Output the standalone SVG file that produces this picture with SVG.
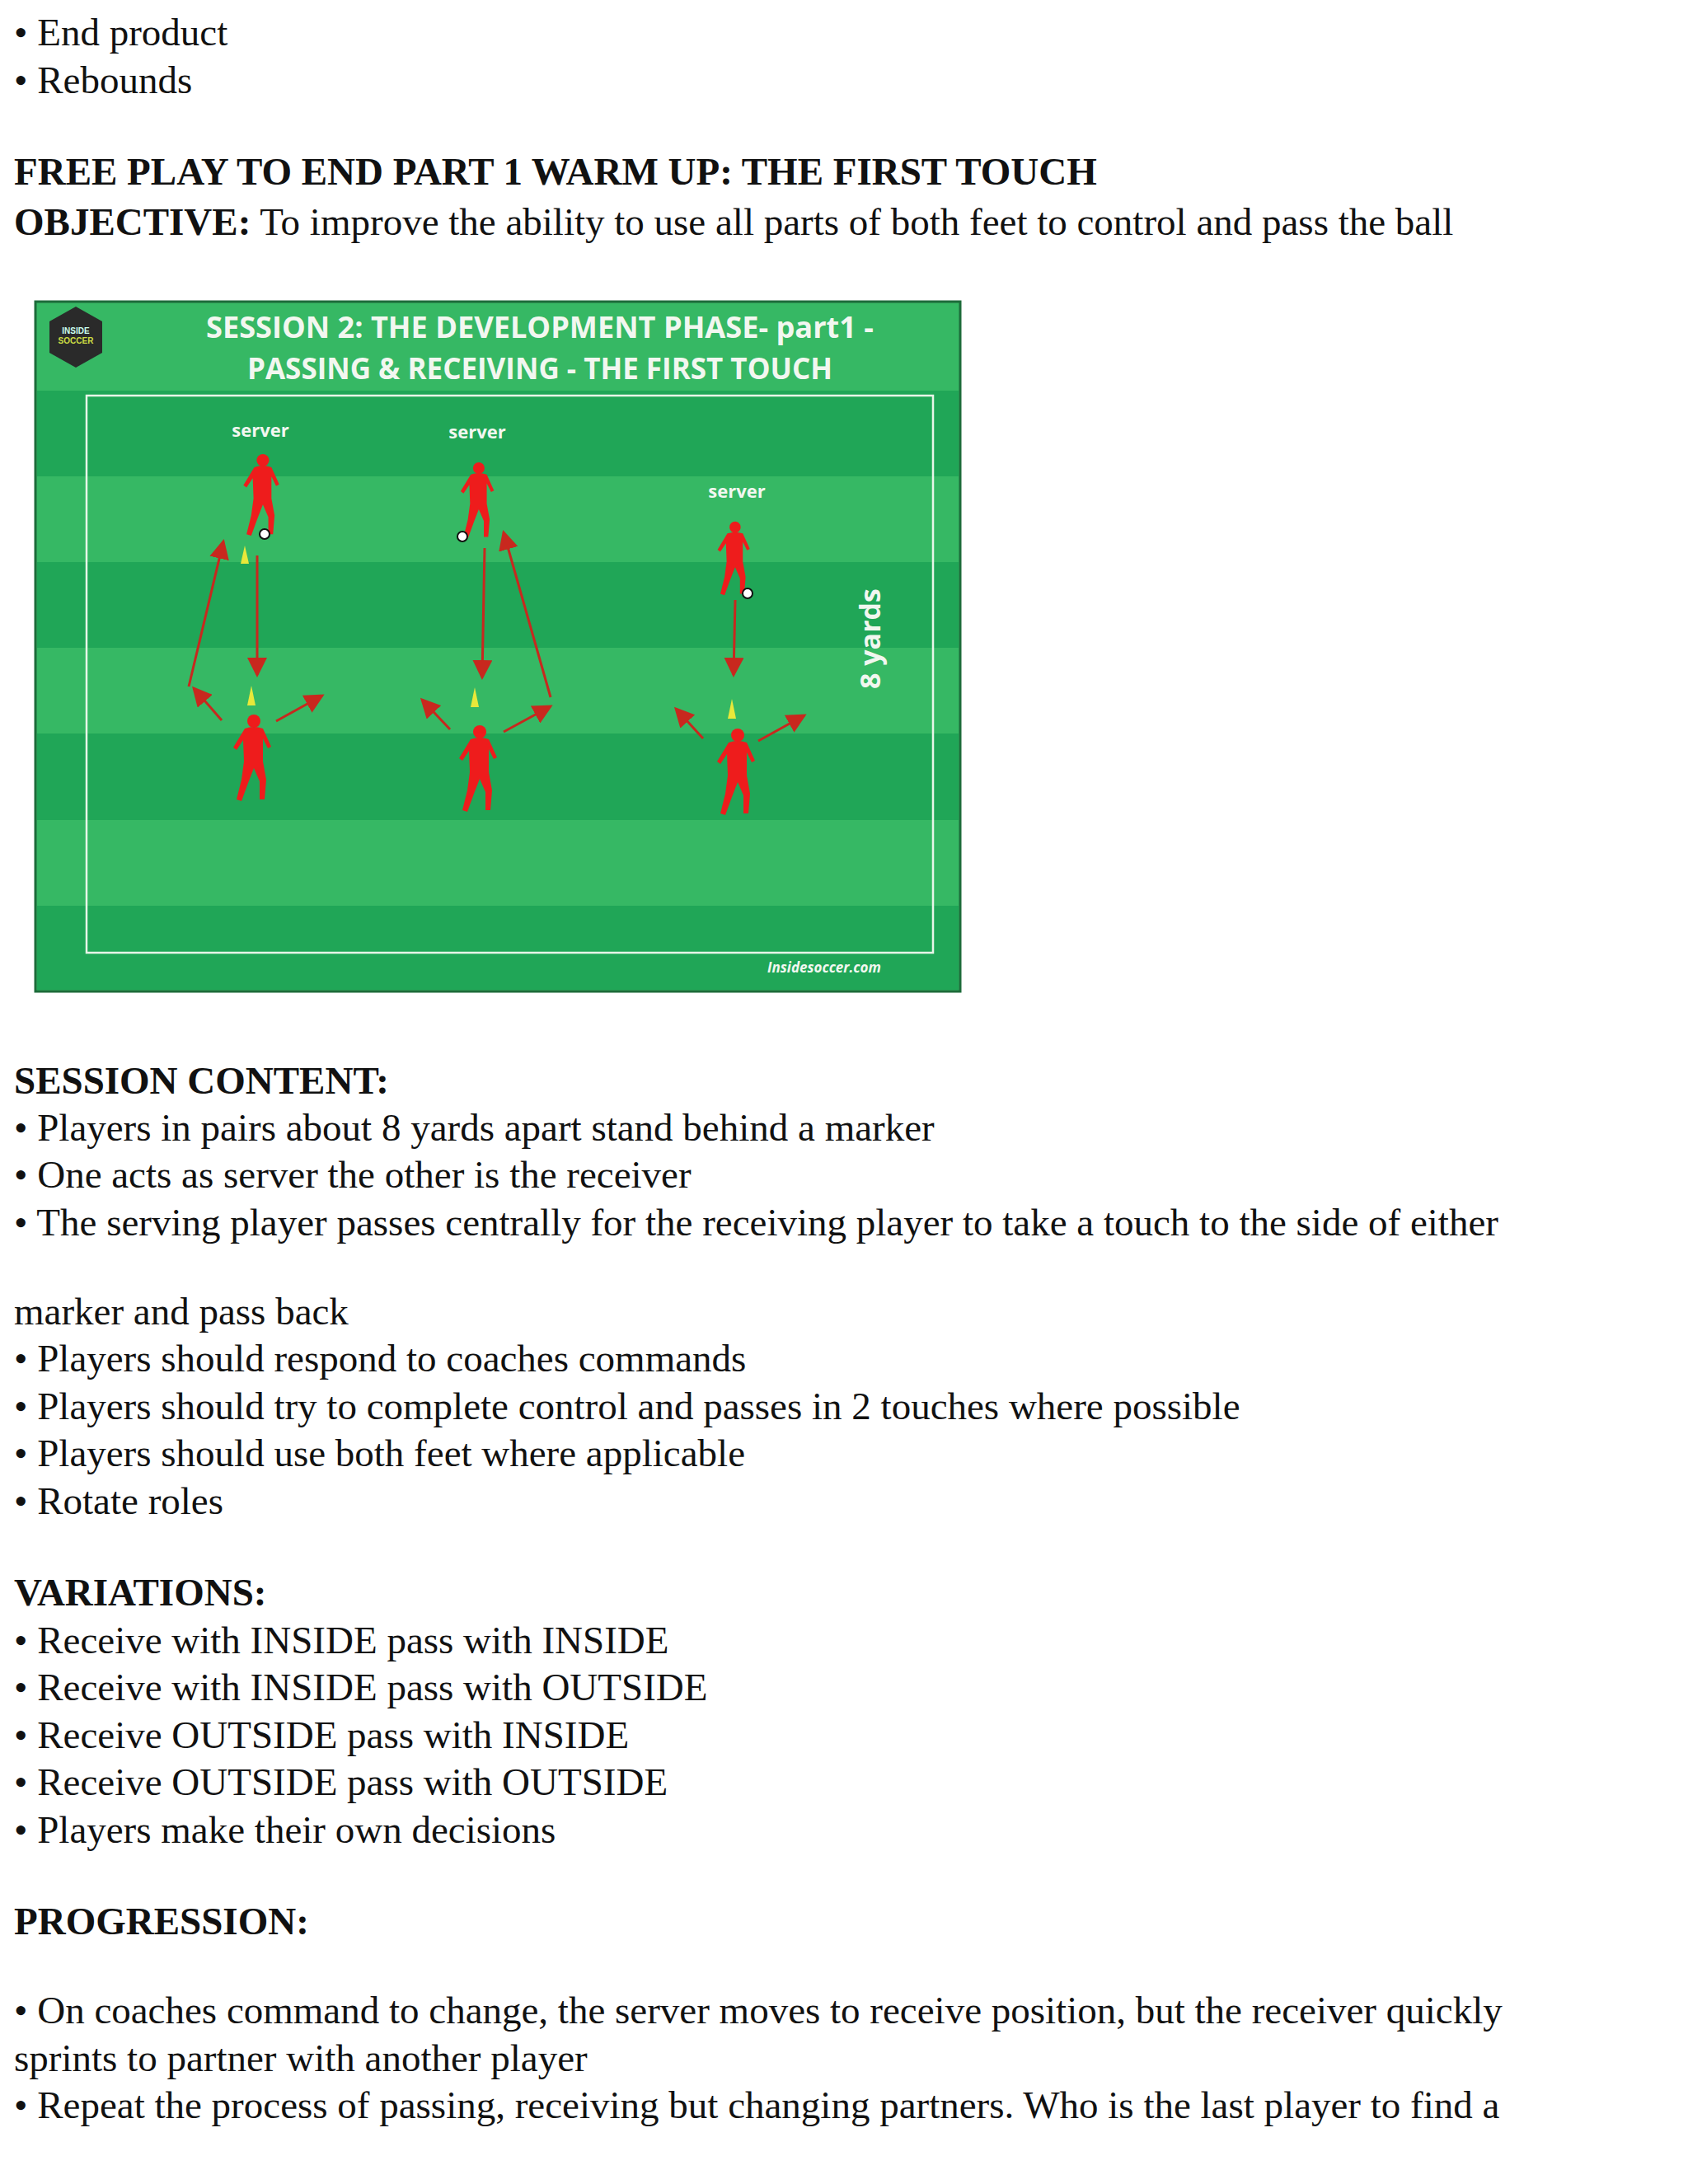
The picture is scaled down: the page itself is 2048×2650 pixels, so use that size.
<svg xmlns="http://www.w3.org/2000/svg" width="2048" height="2650" viewBox="0 0 2048 2650">
<style>
.t{font-family:"Liberation Serif","Times New Roman",serif;font-size:47px;fill:#111}
.b{font-weight:bold}
.d{font-family:"Open Sans","Liberation Sans",sans-serif;font-weight:bold;fill:#f2f7f0}
.lbl{font-size:22px}
.ar{stroke:#c8281e;stroke-width:3;fill:none;marker-end:url(#ah)}
</style>
<defs>
<marker id="ah" markerWidth="8" markerHeight="8" refX="7" refY="4" orient="auto" markerUnits="strokeWidth"><path d="M0,0 L8,4 L0,8 z" fill="#c8281e"/></marker>
<symbol id="pl" viewBox="0 0 64 108">
<circle cx="33" cy="9" r="8" fill="#ee1c1c"/>
<path d="M22 18 Q33 14 44 18 L54 40 L50 42 L44 30 L44 58 L48 80 L46 104 L40 104 L40 82 L33 66 L26 84 L18 106 L12 104 L18 80 L21 58 L20 32 L12 44 L8 41 Z" fill="#ee1c1c"/>
</symbol>
</defs>
<rect width="2048" height="2650" fill="#fff"/>
<text class="t" x="17" y="55">• End product</text>
<text class="t" x="17" y="113">• Rebounds</text>
<text class="t b" x="17" y="224">FREE PLAY TO END PART 1 WARM UP: THE FIRST TOUCH</text>
<text class="t" x="17" y="285"><tspan class="b">OBJECTIVE:</tspan> To improve the ability to use all parts of both feet to control and pass the ball</text>

<g id="pitch">
<rect x="43" y="366" width="1122" height="837" fill="#36b864" stroke="#1d6b3a" stroke-width="3"/>
<rect x="45" y="474" width="1118" height="104" fill="#20a657"/>
<rect x="45" y="682" width="1118" height="104" fill="#20a657"/>
<rect x="45" y="890" width="1118" height="105" fill="#20a657"/>
<rect x="45" y="1099" width="1118" height="102" fill="#20a657"/>
<rect x="105" y="480" width="1027" height="676" fill="none" stroke="#e8f5e8" stroke-width="2.5"/>
<polygon points="92,372 124,390 124,428 92,446 60,428 60,390" fill="#2a2a2a"/>
<text x="92" y="405" text-anchor="middle" font-family="Liberation Sans,sans-serif" font-size="10" font-weight="bold" fill="#cfe">INSIDE</text>
<text x="92" y="417" text-anchor="middle" font-family="Liberation Sans,sans-serif" font-size="10" font-weight="bold" fill="#cd4">SOCCER</text>
<text class="d" x="655" y="410" text-anchor="middle" font-size="36" textLength="810" lengthAdjust="spacingAndGlyphs">SESSION  2:  THE DEVELOPMENT PHASE- part1 -</text>
<text class="d" x="655" y="460" text-anchor="middle" font-size="36" textLength="710" lengthAdjust="spacingAndGlyphs">PASSING &amp; RECEIVING - THE FIRST TOUCH</text>
<text class="d" x="1068" y="775" text-anchor="middle" font-size="34" transform="rotate(-90 1068 775)">8 yards</text>
<text class="d" x="1000" y="1180" text-anchor="middle" font-size="17" font-style="italic">Insidesoccer.com</text>
</g>

<g id="server1"><text class="d lbl" x="316" y="530" text-anchor="middle">server</text><use href="#pl" x="286" y="550" width="64" height="102"/><circle cx="321" cy="648" r="6" fill="#fff" stroke="#111" stroke-width="2"/></g>
<g id="server2"><text class="d lbl" x="579" y="532" text-anchor="middle">server</text><use href="#pl" x="550" y="560" width="60" height="95" transform="scale(1,1)"/><circle cx="561" cy="651" r="6" fill="#fff" stroke="#111" stroke-width="2"/></g>
<g id="server3"><text class="d lbl" x="894" y="604" text-anchor="middle">server</text><use href="#pl" x="862" y="632" width="58" height="92"/><circle cx="907" cy="720" r="6" fill="#fff" stroke="#111" stroke-width="2"/></g>
<g id="receiver1"><use href="#pl" x="275" y="866" width="64" height="108"/></g>
<g id="receiver2"><use href="#pl" x="549" y="879" width="64" height="108"/></g>
<g id="receiver3"><use href="#pl" x="862" y="883" width="64" height="108"/></g>
<g id="cones" fill="#e8e83a">
<polygon points="297,662 292,684 302,684"/>
<polygon points="305,832 300,856 310,856"/>
<polygon points="576,834 571,858 581,858"/>
<polygon points="888,848 883,872 893,872"/>
</g>
<g id="connectors">
<line class="ar" x1="312" y1="674" x2="312" y2="819"/>
<line class="ar" x1="229" y1="833" x2="271" y2="657"/>
<line class="ar" x1="269" y1="874" x2="235" y2="835"/>
<line class="ar" x1="335" y1="875" x2="391" y2="844"/>
<line class="ar" x1="588" y1="665" x2="585" y2="822"/>
<line class="ar" x1="668" y1="846" x2="611" y2="646"/>
<line class="ar" x1="546" y1="885" x2="512" y2="849"/>
<line class="ar" x1="611" y1="888" x2="668" y2="857"/>
<line class="ar" x1="892" y1="728" x2="890" y2="819"/>
<line class="ar" x1="853" y1="896" x2="820" y2="860"/>
<line class="ar" x1="920" y1="899" x2="976" y2="868"/>
</g>

<text class="t b" x="17" y="1327">SESSION CONTENT:</text>
<text class="t" x="17" y="1384">• Players in pairs about 8 yards apart stand behind a marker</text>
<text class="t" x="17" y="1441">• One acts as server the other is the receiver</text>
<text class="t" x="17" y="1499">• The serving player passes centrally for the receiving player to take a touch to the side of either</text>
<text class="t" x="17" y="1607">marker and pass back</text>
<text class="t" x="17" y="1664">• Players should respond to coaches commands</text>
<text class="t" x="17" y="1722">• Players should try to complete control and passes in 2 touches where possible</text>
<text class="t" x="17" y="1779">• Players should use both feet where applicable</text>
<text class="t" x="17" y="1837">• Rotate roles</text>
<text class="t b" x="17" y="1948">VARIATIONS:</text>
<text class="t" x="17" y="2006">• Receive with INSIDE pass with INSIDE</text>
<text class="t" x="17" y="2063">• Receive with INSIDE pass with OUTSIDE</text>
<text class="t" x="17" y="2121">• Receive OUTSIDE pass with INSIDE</text>
<text class="t" x="17" y="2178">• Receive OUTSIDE pass with OUTSIDE</text>
<text class="t" x="17" y="2236">• Players make their own decisions</text>
<text class="t b" x="17" y="2347">PROGRESSION:</text>
<text class="t" x="17" y="2455">• On coaches command to change, the server moves to receive position, but the receiver quickly</text>
<text class="t" x="17" y="2513">sprints to partner with another player</text>
<text class="t" x="17" y="2570">• Repeat the process of passing, receiving but changing partners. Who is the last player to find a</text>
</svg>
